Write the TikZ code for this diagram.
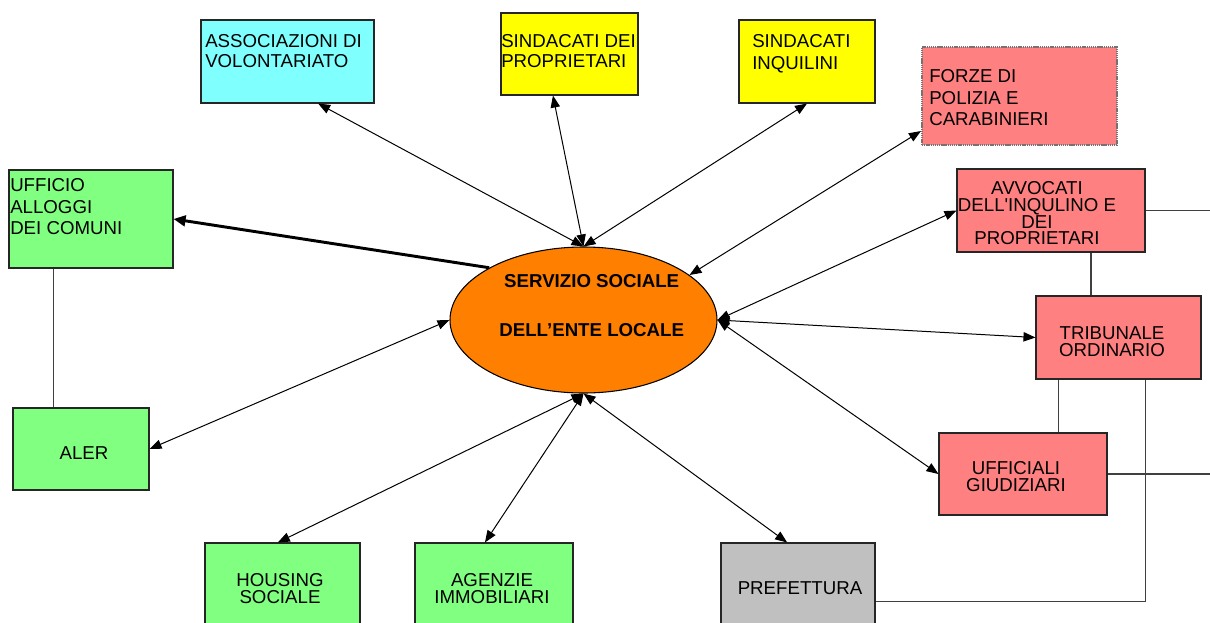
\documentclass[tikz,border=0pt]{standalone}
\usepackage{fontspec}
\setmainfont{Liberation Sans}
\usetikzlibrary{arrows.meta,fit,calc,shapes.geometric}
\definecolor{cyanbox}{HTML}{80FFFF}
\definecolor{yellowbox}{HTML}{FFFF00}
\definecolor{redbox}{HTML}{FF8080}
\definecolor{greenbox}{HTML}{80FF80}
\definecolor{greybox}{HTML}{C0C0C0}
\definecolor{orangebox}{HTML}{FF8000}
\begin{document}
\begin{tikzpicture}[x=0.75pt,y=-0.75pt,
  box/.style={draw=black!85, line width=0.8pt, inner sep=0pt},
  txt/.style={inner sep=0pt, font=\fontsize{14}{15}\selectfont},
  tip/.style={Triangle[length=9pt,width=7pt]},
  link/.style={draw=black, line width=0.75pt, {Triangle[length=9pt,width=7pt]}-{Triangle[length=9pt,width=7pt]}},
  thicklink/.style={draw=black, line width=2.2pt, -{Triangle[length=9pt,width=8pt]}},
  plain/.style={draw=black!75, line width=0.9pt}
]
\useasboundingbox (0,0) rectangle (1210,622);
\clip (0,0) rectangle (1210,622);

% boxes
\node[box, fill=cyanbox, fit={(201,20) (374,103)}] (assoc) {};
\node[box, fill=yellowbox, fit={(501,13) (638,95)}] (sprop) {};
\node[box, fill=yellowbox, fit={(739,20) (875,103)}] (sinq) {};
\node[box, fill=redbox, draw=black!55, line width=1.6pt, dash pattern=on 1pt off 0.6pt, fit={(922,47) (1117,145)}] (forze) {};
\node[box, fill=greenbox, fit={(9,170) (173,268)}] (uff) {};
\node[box, fill=redbox, fit={(957,169) (1145,252)}] (avv) {};
\node[box, fill=redbox, fit={(1036,296) (1201,379)}] (trib) {};
\node[box, fill=redbox, fit={(939,433) (1107,515)}] (giud) {};
\node[box, fill=greenbox, fit={(13,408) (149,490)}] (aler) {};
\node[box, fill=greenbox, fit={(205,543) (360,660)}] (housing) {};
\node[box, fill=greenbox, fit={(415,543) (573,660)}] (agenzie) {};
\node[box, fill=greybox, fit={(721,543) (875,660)}] (pref) {};
\node[draw=black, line width=0.8pt, fill=orangebox, ellipse, inner sep=0pt,
      minimum width=200.25pt, minimum height=109.5pt] (serv) at (583.5,320) {};

% texts
\node[txt, anchor=north west, align=left, font=\fontsize{14}{15}\selectfont] (tassoc) at (205,34) {ASSOCIAZIONI DI\\VOLONTARIATO};
\node[txt, anchor=north west, align=left, font=\fontsize{14}{15}\selectfont] (tsprop) at (501,34) {SINDACATI DEI\\PROPRIETARI};
\node[txt, anchor=north west, align=left, font=\fontsize{14}{16.5}\selectfont] (tsinq) at (752,34) {SINDACATI\\INQUILINI};
\node[txt, anchor=north west, align=left, font=\fontsize{14}{16}\selectfont] (tforze) at (929,69.6) {FORZE DI\\POLIZIA E\\CARABINIERI};
\node[txt, anchor=north west, align=left, font=\fontsize{14}{16}\selectfont] (tuff) at (10,178.6) {UFFICIO\\ALLOGGI\\DEI COMUNI};
\node[txt, anchor=north, align=center, font=\fontsize{14}{12.5}\selectfont] (tavv) at (1037,181.6) {AVVOCATI\\DELL\textquotesingle INQULINO E\\DEI\\PROPRIETARI};
\node[txt, anchor=north, align=center, font=\fontsize{14}{12.75}\selectfont] (ttrib) at (1112,326.6) {TRIBUNALE\\ORDINARIO};
\node[txt, anchor=north, align=center, font=\fontsize{14}{12.75}\selectfont] (tgiud) at (1016,461.6) {UFFICIALI\\GIUDIZIARI};
\node[txt, anchor=north, align=center] (taler) at (84,446.6) {ALER};
\node[txt, anchor=north, align=center, font=\fontsize{14}{12.25}\selectfont] (thousing) at (280,573.6) {HOUSING\\SOCIALE};
\node[txt, anchor=north, align=center, font=\fontsize{14}{12.25}\selectfont] (tagenzie) at (492,573.6) {AGENZIE\\IMMOBILIARI};
\node[txt, anchor=north, align=center] (tpref) at (800,581.6) {PREFETTURA};
\node[txt, anchor=north, align=center, font=\bfseries\fontsize{14}{36.75}\selectfont] (tserv) at (591.7,274.6) {SERVIZIO SOCIALE\\DELL’ENTE LOCALE};

% arrows
\draw[link] (serv.north) -- ($(assoc.south west)!0.676!(assoc.south east)$);
\draw[link] (serv.north) -- ($(sprop.south west)!0.38!(sprop.south east)$);
\draw[link] (serv.north) -- (sinq.south);
\draw[link] (serv.23) -- ($(forze.north west)!0.85!(forze.south west)$);
\draw[thicklink] (serv.151) -- (uff.east);
\draw[link] (serv.west) -- (aler.east);
\draw[link] (serv.east) -- (avv.west);
\draw[link] (serv.east) -- (trib.west);
\draw[link] (serv.east) -- (giud.west);
\draw[link] (serv.south) -- ($(housing.north west)!0.47!(housing.north east)$);
\draw[link] (serv.south) -- ($(agenzie.north west)!0.443!(agenzie.north east)$);
\draw[link] (serv.south) -- ($(pref.north west)!0.43!(pref.north east)$);

% plain lines
\coordinate (edge) at (1210,0);
\coordinate (pa) at ($(uff.south west)!0.274!(uff.south east)$);
\draw[plain] (pa) -- (pa |- aler.north);
\coordinate (pb) at ($(avv.south west)!0.711!(avv.south east)$);
\draw[plain] (pb) -- (pb |- trib.north);
\draw[plain] (avv.east) -- (avv.east -| edge);
\coordinate (pc) at ($(trib.south west)!0.139!(trib.south east)$);
\draw[plain] (pc) -- (pc |- giud.north);
\draw[plain] (giud.east) -- (giud.east -| edge);
\coordinate (pd) at ($(trib.south west)!0.662!(trib.south east)$);
\draw[plain] (pd) |- (pref.east);
\end{tikzpicture}
\end{document}
